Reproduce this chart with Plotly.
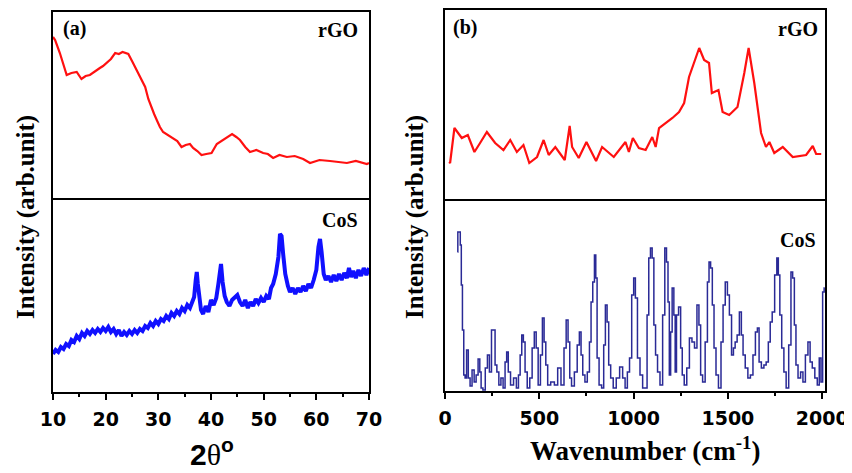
import plotly.graph_objects as go

# ---------------- data ----------------
# (a) XRD rGO
xrd_rgo_2theta = [10.0, 10.4, 11.3, 12.0, 12.6, 13.5, 14.5, 15.4, 16.2, 17.0, 18.0, 18.9, 19.5, 20.2, 21.0,
                  21.8, 22.5, 23.2, 23.7, 24.3, 25.1, 25.9, 26.7, 27.5, 28.1, 28.7, 29.2, 29.7, 30.3, 30.9,
                  31.8, 32.8, 33.6, 34.4, 35.2, 36.0, 36.6, 37.4, 38.2, 39.1, 40.1, 41.1, 42.0, 43.0, 44.0,
                  44.8, 45.5, 46.5, 47.4, 48.6, 49.9, 50.8, 51.8, 53.0, 54.4, 55.9, 57.5, 58.8, 60.6, 62.6,
                  64.2, 65.8, 67.5, 69.6, 70.0]
xrd_rgo_int = [163, 160, 147, 136, 125, 127, 128, 121, 124, 125, 129, 132, 134, 137, 141,
               147, 146, 148, 147, 146, 138, 130, 122, 113, 101, 92, 86, 80, 73, 68,
               65, 62, 59, 53, 55, 56, 52, 49, 45, 46, 47, 56, 59, 62, 66,
               63, 60, 53, 48, 50, 47, 46, 42, 45, 43, 44, 41, 37, 40, 39,
               38, 37, 39, 36, 37]

# (a) XRD CoS
xrd_cos_2theta = [10.0, 10.5, 11.0, 11.5, 12.0, 12.5, 13.0, 13.5, 14.0, 14.5, 15.0, 15.5, 16.0, 16.5, 17.0,
                  17.5, 18.0, 18.5, 19.0, 19.5, 20.0, 20.5, 21.0, 21.5, 22.0, 22.5, 23.0, 23.5, 24.0, 24.5,
                  25.0, 25.5, 26.0, 26.5, 27.0, 27.5, 28.0, 28.5, 29.0, 29.5, 30.0, 30.5, 31.0, 31.5, 32.0,
                  32.5, 33.0, 33.5, 34.0, 34.5, 35.0, 35.5, 36.0, 36.5, 36.8, 37.1, 37.3, 37.5, 37.8, 38.1,
                  38.5, 39.0, 39.5, 40.0, 40.5, 41.0, 41.4, 41.7, 41.9, 42.2, 42.6, 43.0, 43.5, 44.0, 44.5,
                  45.0, 45.5, 46.0, 46.5, 47.0, 47.5, 48.0, 48.5, 49.0, 49.5, 50.0, 50.5, 51.0, 51.4, 51.8,
                  52.3, 52.8, 53.1, 53.4, 53.7, 54.1, 54.6, 55.0, 55.5, 56.0, 56.5, 57.0, 57.5, 58.0, 58.5,
                  59.0, 59.5, 60.0, 60.4, 60.7, 61.0, 61.4, 61.8, 62.3, 62.8, 63.3, 63.8, 64.3, 64.8, 65.3,
                  65.8, 66.2, 66.6, 67.0, 67.5, 68.0, 68.5, 69.0, 69.5, 70.0]
xrd_cos_int = [38, 42, 40, 45, 43, 48, 46, 52, 50, 56, 53, 59, 56, 61, 58,
               62, 59, 63, 60, 64, 61, 65, 60, 63, 58, 62, 56, 60, 57, 61,
               58, 62, 59, 63, 61, 66, 64, 69, 66, 71, 68, 73, 71, 76, 73,
               79, 76, 81, 78, 84, 81, 87, 84, 90, 95, 112, 120, 108, 92, 82,
               78, 86, 80, 92, 87, 94, 108, 126, 128, 110, 96, 90, 86, 92, 94,
               97, 90, 86, 92, 84, 90, 86, 93, 89, 94, 90, 96, 93, 104, 108,
               118, 135, 158, 156, 138, 118, 106, 100, 104, 98, 104, 100, 106, 101, 108,
               104, 112, 122, 145, 153, 140, 118, 112, 116, 110, 117, 111, 118, 112, 119,
               114, 124, 115, 121, 114, 122, 116, 124, 117, 124]

# (b) Raman rGO
raman_rgo_wn = [22, 27, 50, 89, 121, 156, 186, 222, 266, 310, 346, 381, 416, 447, 488, 523, 550, 585, 635,
                661, 674, 709, 750, 801, 833, 895, 957, 975, 996, 1028, 1064, 1099, 1117, 1135, 1206,
                1241, 1268, 1294, 1348, 1374, 1400, 1415, 1450, 1472, 1507, 1551, 1587, 1610, 1640,
                1676, 1702, 1720, 1746, 1791, 1844, 1915, 1950, 1968, 1995]
raman_rgo_int = [40, 39, 74, 64, 67, 50, 59, 70, 59, 52, 62, 50, 57, 39, 45, 62, 47, 55, 42,
                 76, 55, 44, 60, 41, 55, 45, 60, 50, 64, 54, 52, 65, 55, 74, 84,
                 90, 99, 125, 154, 142, 139, 109, 112, 90, 87, 95, 129, 154, 119,
                 69, 55, 60, 49, 55, 45, 47, 56, 48, 48]

# (b) Raman CoS
raman_cos_wn = [66, 70, 78, 84, 89, 96, 103, 110, 119, 128, 138, 149, 160, 170, 181, 188, 195, 207, 220,
                230, 241, 252, 261, 270, 280, 291, 302, 314, 323, 331, 340, 355, 372, 385, 394, 403,
                411, 420, 429, 443, 456, 468, 479, 488, 500, 512, 521, 530, 539, 550, 571, 589, 606,
                624, 638, 647, 658, 665, 677, 695, 707, 718, 725, 736, 748, 761, 771, 778, 789, 796,
                803, 810, 824, 837, 846, 855, 864, 872, 885, 899, 917, 935, 949, 961, 973, 984, 996,
                1005, 1014, 1027, 1041, 1055, 1067, 1076, 1085, 1094, 1103, 1112, 1121, 1133, 1147,
                1161, 1170, 1179, 1186, 1193, 1200, 1209, 1218, 1223, 1232, 1245, 1254, 1262, 1275,
                1289, 1303, 1316, 1330, 1342, 1351, 1360, 1372, 1387, 1396, 1404, 1413, 1422, 1431,
                1443, 1457, 1470, 1479, 1493, 1502, 1514, 1525, 1534, 1543, 1555, 1567, 1576, 1585,
                1599, 1613, 1626, 1640, 1652, 1661, 1670, 1685, 1697, 1709, 1720, 1729, 1741, 1755,
                1764, 1771, 1780, 1791, 1803, 1815, 1830, 1839, 1848, 1857, 1865, 1879, 1892, 1904,
                1918, 1931, 1941, 1954, 1968, 1980, 1989, 1998, 2007, 2014]
raman_cos_int = [139, 159, 159, 146, 106, 61, 16, 13, 41, 13, 5, 21, 9, 16, 32, 19, 3, 1, 23,
                 36, 19, 61, 61, 26, 19, 6, 13, 3, 29, 39, 19, 6, 13, 3, 16, 36,
                 56, 49, 19, 3, 13, 43, 59, 43, 6, 36, 73, 49, 26, 6, 9, 6, 23,
                 6, 43, 71, 49, 13, 5, 19, 46, 59, 36, 16, 9, 19, 49, 89, 109, 136,
                 113, 33, 6, 3, 46, 86, 69, 26, 13, 3, 13, 24, 13, 3, 19, 33, 96,
                 113, 93, 33, 16, 3, 3, 76, 133, 143, 133, 66, 36, 19, 6,
                 76, 143, 129, 89, 16, 59, 103, 76, 19, 76, 84, 43, 16, 6,
                 23, 53, 49, 43, 86, 66, 16, 9, 49, 109, 129, 123, 86, 43,
                 16, 3, 49, 86, 109, 96, 76, 36, 43, 49, 56, 79, 56, 36,
                 23, 13, 16, 36, 59, 63, 29, 23, 26, 29, 49, 69, 79, 116,
                 133, 116, 76, 43, 19, 3, 46, 119, 113, 66, 26, 13, 19, 9,
                 36, 49, 29, 23, 13, 6, 33, 9, 99, 103]

panel_a_ticks = [10, 20, 30, 40, 50, 60, 70]
panel_b_ticks = [0, 500, 1000, 1500, 2000]

# ---------------- figure ----------------
fig = go.Figure()
fig.add_trace(go.Scatter(x=xrd_rgo_2theta, y=xrd_rgo_int, mode="lines",
                         line=dict(color="#ff1010", width=2.2), xaxis="x", yaxis="y"))
fig.add_trace(go.Scatter(x=xrd_cos_2theta, y=xrd_cos_int, mode="lines",
                         line=dict(color="#1010ff", width=4), xaxis="x2", yaxis="y2"))
fig.add_trace(go.Scatter(x=raman_rgo_wn, y=raman_rgo_int, mode="lines",
                         line=dict(color="#ff1010", width=2.2), xaxis="x3", yaxis="y3"))
fig.add_trace(go.Scatter(x=raman_cos_wn, y=raman_cos_int, mode="lines",
                         line=dict(color="#2a2a96", width=1.5, shape="hvh"), xaxis="x4", yaxis="y4"))

W, H = 852, 473
OFF = 8  # page body margin of the rendered html
def px(x):
    return (x - OFF) / W
def py(y):
    return 1 - (y - OFF) / H

axline = dict(showline=True, linecolor="black", linewidth=2, mirror=True,
              showgrid=False, zeroline=False, automargin=False)
topx = dict(showline=True, linecolor="black", linewidth=2, mirror=False, side="top",
            showgrid=False, zeroline=False, automargin=False, showticklabels=False, ticks="")
tickfont = dict(family="DejaVu Sans", size=19, color="black", weight="bold")

xa_dom = [px(53), px(369)]
xb_dom = [px(445), px(825)]

fig.update_layout(
    template="none",
    width=W, height=H, margin=dict(l=0, r=0, t=0, b=0, pad=0, autoexpand=False),
    paper_bgcolor="white", plot_bgcolor="white", showlegend=False,
    xaxis=dict(domain=xa_dom, anchor="y", range=[10, 70], **topx),
    yaxis=dict(domain=[py(200), py(12)], anchor="x", range=[0, 188], showticklabels=False, ticks="", **axline),
    xaxis2=dict(domain=xa_dom, anchor="y2", range=[10, 70], tickvals=panel_a_ticks,
                ticks="outside", ticklen=6, tickwidth=2, tickcolor="black", tickfont=tickfont,
                ticklabelstandoff=3,
                minor=dict(dtick=5, tick0=5, ticks="outside", ticklen=3, tickwidth=2, tickcolor="black"),
                **axline),
    yaxis2=dict(domain=[py(392), py(200)], anchor="x2", range=[0, 192], showticklabels=False, ticks="", **axline),
    xaxis3=dict(domain=xb_dom, anchor="y3", range=[0, 2015], **topx),
    yaxis3=dict(domain=[py(201), py(10)], anchor="x3", range=[1, 192], showticklabels=False, ticks="", **axline),
    xaxis4=dict(domain=xb_dom, anchor="y4", range=[0, 2015], tickvals=panel_b_ticks,
                ticks="outside", ticklen=6, tickwidth=2, tickcolor="black", tickfont=tickfont,
                ticklabelstandoff=3,
                minor=dict(dtick=250, tick0=250, ticks="outside", ticklen=3, tickwidth=2, tickcolor="black"),
                **axline),
    yaxis4=dict(domain=[py(391), py(201)], anchor="x4", range=[0, 190], showticklabels=False, ticks="", **axline),
)

lab = dict(family="Liberation Serif", size=20, color="black", weight="bold")
ann = []
def add(text, x, y, xanchor="center", font=lab, textangle=0):
    ann.append(dict(text=text, x=px(x), y=py(y), xref="paper", yref="paper", showarrow=False,
                    xanchor=xanchor, yanchor="middle", font=font, textangle=textangle))

add("(a)", 61, 28, "left")
add("rGO", 360, 30, "right")
add("CoS", 360, 220, "right")
add("(b)", 451, 27, "left")
add("rGO", 820, 29, "right")
add("CoS", 818, 240, "right")

ytitle = dict(family="Liberation Serif", size=25, color="black", weight="bold")
add("Intensity (arb.unit)", 26, 217, font=ytitle, textangle=-90)
add("Intensity (arb.unit)", 415, 217, font=ytitle, textangle=-90)
add("2<span style='font-family:Liberation Serif;font-weight:normal'>θ</span><sup>o</sup>", 212, 452,
    font=dict(family="Liberation Sans", size=30, color="black", weight="bold"))
add("Wavenumber (cm<sup>-1</sup>)", 645, 449,
    font=dict(family="Liberation Serif", size=27, color="black", weight="bold"))

fig.update_layout(annotations=ann)
fig.write_html("out.html")
